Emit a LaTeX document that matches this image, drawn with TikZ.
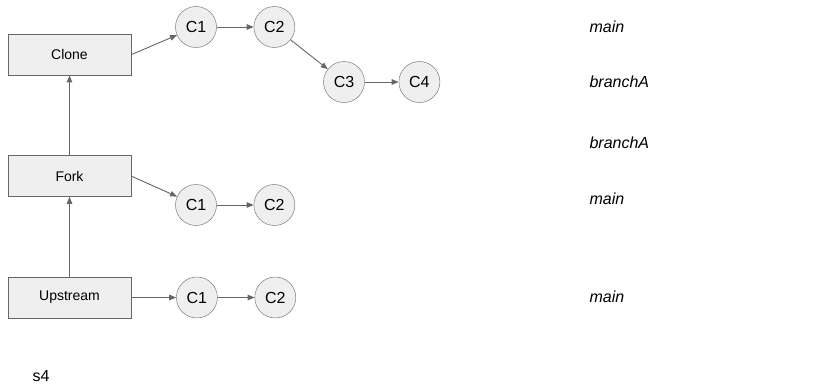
\documentclass[tikz,border=0pt]{standalone}
\usepackage{fontspec}
\setmainfont{Liberation Sans}
\usepackage{tikz}
\usetikzlibrary{shapes.geometric, arrows.meta, positioning}

\definecolor{boxgray}{HTML}{EFEFEF}
\definecolor{linegray}{HTML}{666666}

\begin{document}
\begin{tikzpicture}[
    x=1pt, y=-1pt,
    node distance=80pt,
    repo/.style={rectangle, minimum width=123pt, minimum height=41pt, text centered, draw=linegray, fill=boxgray, font=\fontsize{14}{16}\selectfont},
    commit/.style={circle, minimum size=41pt, inner sep=0pt, draw=linegray, fill=boxgray, font=\fontsize{16}{18}\selectfont},
    branch/.style={anchor=west, font=\fontsize{16}{18}\selectfont\itshape},
    arrow/.style={draw=linegray, line width=0.9pt, -{Triangle[length=7pt,width=5.5pt]}},
]

    \useasboundingbox (0,0) rectangle (839,389);

    % repositories
    \node (upstream) [repo] at (69.5,297.5) {Upstream};
    \node (fork) [repo, above=of upstream] {Fork};
    \node (clone) [repo, above=of fork] {Clone};

    % commits of the clone
    \node (clone_c1) [commit] at (196,27) {C1};
    \node (clone_c2) [commit, right=37pt of clone_c1] {C2};
    \node (clone_c3) [commit] at (344,82) {C3};
    \node (clone_c4) [commit, right=34pt of clone_c3] {C4};

    % commits of the fork
    \node (fork_c1) [commit] at (196,205) {C1};
    \node (fork_c2) [commit, right=37pt of fork_c1] {C2};

    % commits of upstream
    \node (up_c1) [commit, right=45pt of upstream] {C1};
    \node (up_c2) [commit, right=37pt of up_c1] {C2};

    % branch names
    \node (lbl_main1) [branch] at (586,27) {main};
    \node (lbl_branch1) [branch] at (586,82) {branchA};
    \node (lbl_branch2) [branch] at (586,143) {branchA};
    \node (lbl_main2) [branch] at (586,199) {main};
    \node (lbl_main3) [branch] at (586,297) {main};

    \node (slide) [anchor=west, font=\fontsize{16}{18}\selectfont] at (29,376) {s4};

    \draw [arrow] (upstream) -- (fork);
    \draw [arrow] (fork) -- (clone);
    \draw [arrow] (clone.east) -- (clone_c1);
    \draw [arrow] (clone_c1) -- (clone_c2);
    \draw [arrow] (clone_c2) -- (clone_c3);
    \draw [arrow] (clone_c3) -- (clone_c4);
    \draw [arrow] (fork.east) -- (fork_c1);
    \draw [arrow] (fork_c1) -- (fork_c2);
    \draw [arrow] (upstream) -- (up_c1);
    \draw [arrow] (up_c1) -- (up_c2);

\end{tikzpicture}
\end{document}
